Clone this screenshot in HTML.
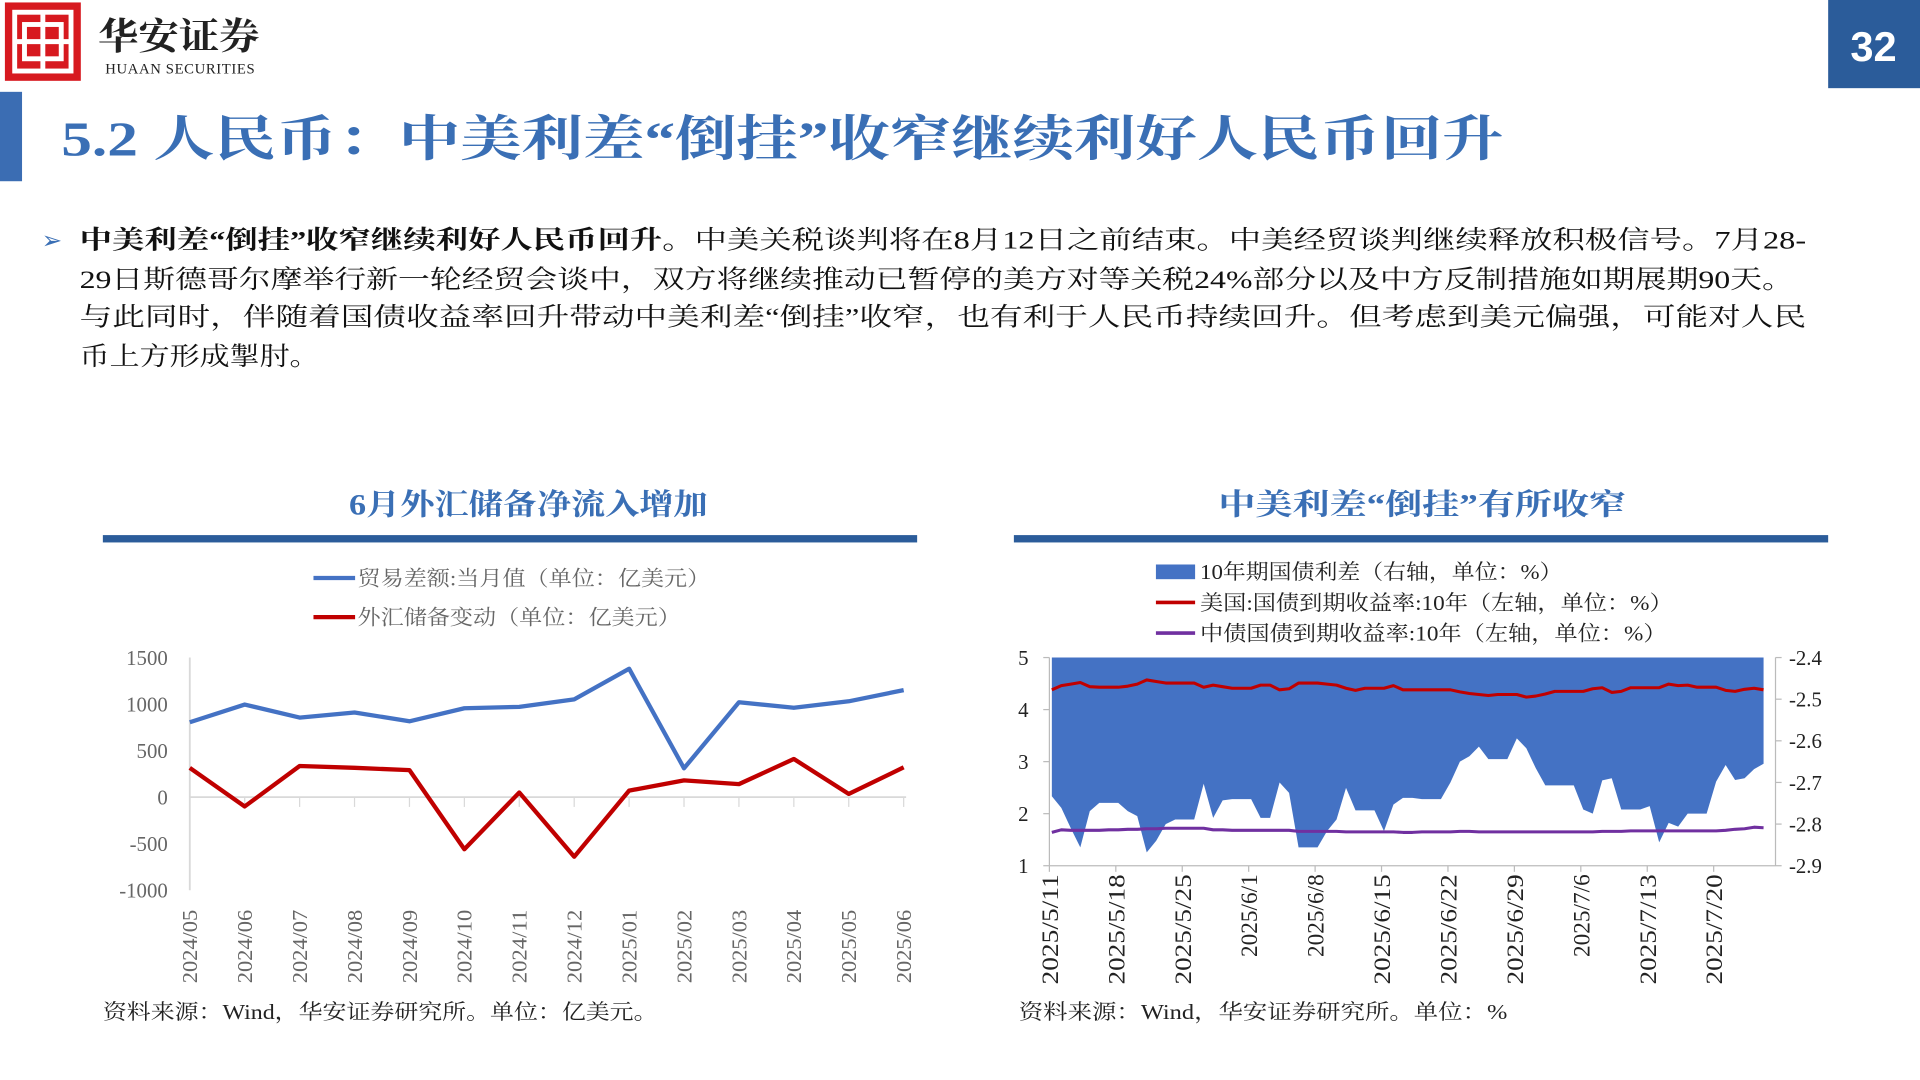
<!DOCTYPE html>
<html><head><meta charset="utf-8">
<style>
html,body{margin:0;padding:0;background:#fff;width:1920px;height:1080px;overflow:hidden}
svg{display:block}
.serif{font-family:"Liberation Serif","Noto Serif CJK SC",serif}
</style></head>
<body>
<svg id="page" width="1920" height="1080" viewBox="0 0 1568 882" xmlns="http://www.w3.org/2000/svg" class="serif">
  <g>
    <rect x="4" y="2" width="62" height="64" fill="#d7191f"/>
    <rect x="12" y="10" width="46" height="48" fill="none" stroke="#fff" stroke-width="4"/>
    <rect x="20" y="20" width="30" height="28" fill="none" stroke="#fff" stroke-width="4"/>
    <line x1="35" y1="10" x2="35" y2="58" stroke="#fff" stroke-width="4"/>
    <line x1="12" y1="34" x2="58" y2="34" stroke="#fff" stroke-width="4"/>
    <text x="80" y="40" font-size="30" font-weight="bold" fill="#222" textLength="132" lengthAdjust="spacingAndGlyphs">华安证券</text>
    <text x="86" y="60" font-size="12" fill="#222" font-family="Liberation Serif, serif" textLength="122">HUAAN SECURITIES</text>
  </g>
  <rect x="1493" y="0" width="75" height="72" fill="#2b5c9a"/>
  <text x="1530" y="50" font-size="34" font-weight="bold" fill="#fff" text-anchor="middle" font-family="Liberation Sans, sans-serif">32</text>
  <rect x="0" y="75" width="18" height="73" fill="#3b6db3"/>
  <text x="50" y="127" font-size="40" fill="#3a6fb5" font-weight="bold" textLength="1178" lengthAdjust="spacingAndGlyphs">5.2 人民币：中美利差“倒挂”收窄继续利好人民币回升</text>

  <text x="34" y="203" font-size="20" fill="#3a6fb5">➢</text>
  <g font-size="21" fill="#111">
    <text x="65" y="203" textLength="1410" lengthAdjust="spacingAndGlyphs"><tspan font-weight="bold">中美利差“倒挂”收窄继续利好人民币回升。</tspan>中美关税谈判将在8月12日之前结束。中美经贸谈判继续释放积极信号。7月28-</text>
    <text x="65" y="235" textLength="1400" lengthAdjust="spacingAndGlyphs">29日斯德哥尔摩举行新一轮经贸会谈中，双方将继续推动已暂停的美方对等关税24%部分以及中方反制措施如期展期90天。</text>
    <text x="65" y="266" textLength="1410" lengthAdjust="spacingAndGlyphs">与此同时，伴随着国债收益率回升带动中美利差“倒挂”收窄，也有利于人民币持续回升。但考虑到美元偏强，可能对人民</text>
    <text x="65" y="298" textLength="196" lengthAdjust="spacingAndGlyphs">币上方形成掣肘。</text>
  </g>

  <text x="285" y="420" font-size="24" font-weight="bold" fill="#3a6fb5" textLength="293" lengthAdjust="spacingAndGlyphs">6月外汇储备净流入增加</text>
  <rect x="84" y="437" width="665" height="6" fill="#2b5c9a"/>
  <text x="995" y="420" font-size="24" font-weight="bold" fill="#3a6fb5" textLength="333" lengthAdjust="spacingAndGlyphs">中美利差“倒挂”有所收窄</text>
  <rect x="828" y="437" width="665" height="6" fill="#2b5c9a"/>

  <g font-size="17" fill="#666">
    <g><line x1="256" y1="472" x2="290" y2="472" stroke="#4472c4" stroke-width="3.5"/><text x="292" y="478" textLength="288" lengthAdjust="spacingAndGlyphs">贸易差额:当月值（单位：亿美元）</text></g>
    <g><line x1="256" y1="504" x2="290" y2="504" stroke="#c00000" stroke-width="3.5"/><text x="292" y="510" textLength="264" lengthAdjust="spacingAndGlyphs">外汇储备变动（单位：亿美元）</text></g>
  </g>
  <g id="leftChart"></g>

  <g font-size="17" fill="#222">
    <g><rect x="944" y="461" width="32" height="12" fill="#4472c4"/><text x="980" y="473" textLength="296" lengthAdjust="spacingAndGlyphs">10年期国债利差（右轴，单位：%）</text></g>
    <g><line x1="944" y1="492" x2="976" y2="492" stroke="#c00000" stroke-width="3"/><text x="980" y="498" textLength="386" lengthAdjust="spacingAndGlyphs">美国:国债到期收益率:10年（左轴，单位：%）</text></g>
    <g><line x1="944" y1="517" x2="976" y2="517" stroke="#7030a0" stroke-width="3"/><text x="980" y="523" textLength="381" lengthAdjust="spacingAndGlyphs">中债国债到期收益率:10年（左轴，单位：%）</text></g>
  </g>
  <g id="rightChart"></g>

  <text x="84" y="832" font-size="17" fill="#222" textLength="453" lengthAdjust="spacingAndGlyphs">资料来源：Wind，华安证券研究所。单位：亿美元。</text>
  <text x="832" y="832" font-size="17" fill="#222" textLength="399" lengthAdjust="spacingAndGlyphs">资料来源：Wind，华安证券研究所。单位：%</text>
</svg>

<script>
const monthCats = ["2024/05","2024/06","2024/07","2024/08","2024/09","2024/10","2024/11","2024/12","2025/01","2025/02","2025/03","2025/04","2025/05","2025/06"];
const tradeBalance = [805, 995, 855, 910, 815, 955, 970, 1050, 1380, 310, 1020, 960, 1030, 1150];
const fxReserveChange = [315, -100, 335, 315, 290, -560, 50, -640, 70, 180, 140, 410, 35, 320];
const leftTicks = [1500, 1000, 500, 0, -500, -1000];

const dayLabels = ["2025/5/11","2025/5/18","2025/5/25","2025/6/1","2025/6/8","2025/6/15","2025/6/22","2025/6/29","2025/7/6","2025/7/13","2025/7/20"];
const spread10y = [-2.733,-2.761,-2.81,-2.856,-2.769,-2.749,-2.749,-2.749,-2.769,-2.781,-2.868,-2.84,-2.80,-2.789,-2.789,-2.789,-2.703,-2.785,-2.743,-2.740,-2.740,-2.740,-2.785,-2.785,-2.700,-2.725,-2.856,-2.856,-2.856,-2.817,-2.789,-2.713,-2.767,-2.767,-2.767,-2.817,-2.753,-2.737,-2.737,-2.740,-2.740,-2.740,-2.700,-2.650,-2.637,-2.614,-2.644,-2.644,-2.644,-2.594,-2.618,-2.666,-2.707,-2.707,-2.707,-2.707,-2.765,-2.775,-2.695,-2.690,-2.765,-2.765,-2.765,-2.757,-2.844,-2.797,-2.806,-2.775,-2.775,-2.775,-2.698,-2.658,-2.694,-2.690,-2.668,-2.655];
const us10y = [4.38,4.46,4.49,4.52,4.44,4.43,4.43,4.43,4.45,4.49,4.57,4.54,4.51,4.51,4.51,4.51,4.43,4.47,4.44,4.41,4.41,4.41,4.47,4.47,4.38,4.40,4.51,4.51,4.51,4.49,4.47,4.41,4.37,4.41,4.41,4.41,4.46,4.38,4.38,4.38,4.38,4.38,4.38,4.34,4.31,4.29,4.27,4.29,4.29,4.29,4.24,4.26,4.30,4.35,4.35,4.35,4.35,4.40,4.42,4.33,4.35,4.42,4.42,4.42,4.42,4.49,4.46,4.47,4.43,4.43,4.43,4.37,4.35,4.39,4.41,4.38];
const cn10y = [1.64,1.69,1.68,1.68,1.68,1.68,1.69,1.69,1.70,1.70,1.71,1.71,1.72,1.72,1.72,1.72,1.72,1.69,1.69,1.68,1.68,1.68,1.68,1.68,1.68,1.68,1.66,1.66,1.66,1.66,1.66,1.65,1.65,1.65,1.65,1.65,1.65,1.64,1.64,1.65,1.65,1.65,1.65,1.66,1.66,1.65,1.65,1.65,1.65,1.65,1.65,1.65,1.65,1.65,1.65,1.65,1.65,1.65,1.66,1.66,1.66,1.67,1.67,1.67,1.67,1.67,1.67,1.67,1.67,1.67,1.67,1.68,1.70,1.71,1.74,1.73];
const leftAxisTicks = [5,4,3,2,1];
const rightAxisTicks = ["-2.4","-2.5","-2.6","-2.7","-2.8","-2.9"];

const NS = "http://www.w3.org/2000/svg";
function mk(tag, attrs, parent){ const e=document.createElementNS(NS,tag); for(const k in attrs) e.setAttribute(k,attrs[k]); parent.appendChild(e); return e; }

const L = document.getElementById('leftChart');
const lx = i => 155 + i*(583/(monthCats.length-1));
const ly = v => 651 - v*0.076;
leftTicks.forEach(t=>{
  const tx = mk('text',{x:137,y:ly(t)+6,'font-size':17,fill:'#666','text-anchor':'end'},L);
  tx.textContent = t;
  
  
});
const ax = mk('line',{x1:155,y1:ly(1500),x2:155,y2:ly(-1000),stroke:'#d9d9d9','stroke-width':1.5},L);


const zl = mk('line',{x1:155,y1:ly(0),x2:740,y2:ly(0),stroke:'#d9d9d9','stroke-width':1.5},L);


monthCats.forEach((c,i)=>{
  const x = lx(i);
  mk('line',{x1:x,y1:ly(0),x2:x,y2:ly(0)+8,stroke:'#d9d9d9','stroke-width':1},L);
  const t = mk('text',{x:0,y:0,'font-size':17,fill:'#666','text-anchor':'end',textLength:60,lengthAdjust:'spacingAndGlyphs',transform:`translate(${x+6},743) rotate(-90)`},L);
  t.textContent = c;
  
  
});
const p1 = mk('polyline',{points:tradeBalance.map((v,i)=>lx(i)+','+ly(v)).join(' '),fill:'none',stroke:'#4472c4','stroke-width':3.5,'stroke-linejoin':'round'},L);


const p2 = mk('polyline',{points:fxReserveChange.map((v,i)=>lx(i)+','+ly(v)).join(' '),fill:'none',stroke:'#c00000','stroke-width':3.5,'stroke-linejoin':'round'},L);



const R = document.getElementById('rightChart');
const rx = i => 859 + i*7.75;
const yl = v => 537 + (5-v)*42.5;
const yr = v => 537 + (-2.4-v)*340;
const n = spread10y.length;
const areaPts = [rx(0)+','+537].concat(spread10y.map((v,i)=>rx(i)+','+yr(v))).concat([rx(n-1)+','+537]);
const area = mk('polygon',{points:areaPts.join(' '),fill:'#4472c4'},R);


leftAxisTicks.forEach(t=>{
  const tx = mk('text',{x:840,y:yl(t)+6,'font-size':17,fill:'#222','text-anchor':'end'},R);
  tx.textContent = t;
  
  
  mk('line',{x1:852,y1:yl(t),x2:857,y2:yl(t),stroke:'#bbb'},R);
});
rightAxisTicks.forEach(t=>{
  const y = yr(parseFloat(t));
  const tx = mk('text',{x:1461,y:y+6,'font-size':17,fill:'#222'},R);
  tx.textContent = t;
  
  
  mk('line',{x1:1450,y1:y,x2:1455,y2:y,stroke:'#bbb'},R);
});
mk('line',{x1:857,y1:537,x2:857,y2:707,stroke:'#bbb'},R);
mk('line',{x1:1450,y1:537,x2:1450,y2:707,stroke:'#bbb'},R);
mk('line',{x1:857,y1:707,x2:1450,y2:707,stroke:'#bbb'},R);
dayLabels.forEach((d,k)=>{
  const x = rx(k*7)-2;
  mk('line',{x1:x,y1:707,x2:x,y2:712,stroke:'#bbb'},R);
  const t = mk('text',{x:0,y:0,'font-size':19,fill:'#222','text-anchor':'end',transform:`translate(${x+7},714) rotate(-90)`},R);
  t.textContent = d;
  if (d.length >= 9) { t.setAttribute('textLength', 90); t.setAttribute('lengthAdjust','spacingAndGlyphs'); }
  
  
});
const us = mk('polyline',{points:us10y.map((v,i)=>rx(i)+','+yl(v)).join(' '),fill:'none',stroke:'#c00000','stroke-width':2.5,'stroke-linejoin':'round'},R);


const cn = mk('polyline',{points:cn10y.map((v,i)=>rx(i)+','+yl(v)).join(' '),fill:'none',stroke:'#7030a0','stroke-width':2.5,'stroke-linejoin':'round'},R);


</script>
</body></html>
